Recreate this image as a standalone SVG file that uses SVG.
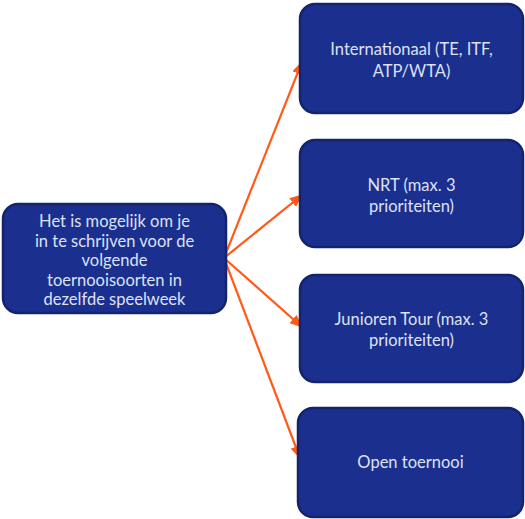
<svg xmlns="http://www.w3.org/2000/svg" width="525" height="519" viewBox="0 0 525 519">
<style>
.box{fill:#1b2f8f;stroke:#13246c;stroke-width:2.5}
.t{font-family:Lato,"Open Sans","Liberation Sans",sans-serif;font-size:16.5px;fill:#dde2f2;text-anchor:middle}
.c{stroke:#ff5a1a;stroke-width:2.2;fill:none;marker-end:url(#ah)}
</style>
<defs>
<marker id="ah" viewBox="0 0 12 10" refX="11" refY="5" markerWidth="6" markerHeight="5" orient="auto" markerUnits="strokeWidth">
<path d="M0,0 L12,5 L0,10 z" fill="#ff5a1a"/>
</marker>
</defs>
<g id="connectors">
<line class="c" x1="224" y1="258" x2="302" y2="62"/>
<line class="c" x1="224" y1="258" x2="302" y2="195"/>
<line class="c" x1="224" y1="258" x2="302" y2="327"/>
<line class="c" x1="224" y1="258" x2="300" y2="458"/>
</g>
<g id="source">
<rect class="box" x="3" y="204" width="223" height="109" rx="15"/>
<text class="t" x="114.5" y="227">Het is mogelijk om je</text>
<text class="t" x="114.5" y="246.5">in te schrijven voor de</text>
<text class="t" x="114.5" y="266">volgende</text>
<text class="t" x="114.5" y="285.5">toernooisoorten in</text>
<text class="t" x="114.5" y="305">dezelfde speelweek</text>
</g>
<g id="n1">
<rect class="box" x="300" y="4" width="223" height="109" rx="15"/>
<text class="t" x="411.5" y="55">Internationaal (TE, ITF,</text>
<text class="t" x="411.5" y="77">ATP/WTA)</text>
</g>
<g id="n2">
<rect class="box" x="300" y="140" width="223" height="107" rx="15"/>
<text class="t" x="411.5" y="191">NRT (max. 3</text>
<text class="t" x="411.5" y="212">prioriteiten)</text>
</g>
<g id="n3">
<rect class="box" x="300" y="275" width="223" height="107" rx="15"/>
<text class="t" x="411.5" y="325">Junioren Tour (max. 3</text>
<text class="t" x="411.5" y="346">prioriteiten)</text>
</g>
<g id="n4">
<rect class="box" x="298" y="408" width="225" height="109" rx="15"/>
<text class="t" x="410.5" y="468">Open toernooi</text>
</g>
</svg>
